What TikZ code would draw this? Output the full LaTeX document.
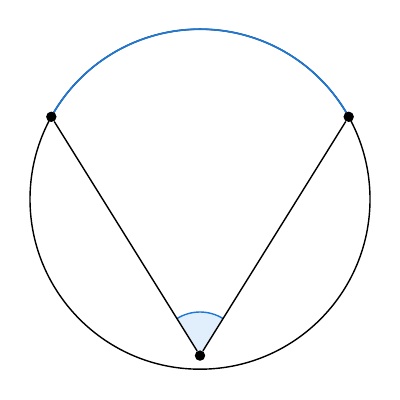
\documentclass[tikz,border=0pt]{standalone}
\usepackage{tikz}
\usepackage{xcolor}
\definecolor{arcblue}{RGB}{30, 120, 215}
\definecolor{wedgeblue}{RGB}{225, 238, 252}

\begin{document}
\begin{tikzpicture}[
        % Styles for the points and lines
        dot/.style={circle, fill=black, inner sep=0pt, minimum size=2.6mm},
        chord/.style={draw=black, line width=1pt},
        majorarc/.style={draw=arcblue, line width=1.2pt},
        anglefill/.style={fill=wedgeblue},
        anglearc/.style={draw=arcblue, line width=1pt}
    ]
    \useasboundingbox (0,0) rectangle (10,10);

    % Centre and points
    \coordinate (O) at (5, 5.02);
    \coordinate (pA) at (1.283, 7.08);
    \coordinate (pB) at (8.717, 7.08);
    \coordinate (pP) at (5, 1.11);

    % Circle and highlighted arc
    \draw[chord] (O) circle (4.25);
    \draw[majorarc] (pA) arc (151:29:4.25);

    % Angle marker at P
    \fill[anglefill] (pP) -- ([shift={(58.1:1.09)}]pP) arc (58.1:121.9:1.09) -- cycle;
    \draw[anglearc] ([shift={(58.1:1.09)}]pP) arc (58.1:121.9:1.09);

    % Points
    \node[dot] (A) at (pA) {};
    \node[dot] (B) at (pB) {};
    \node[dot] (P) at (pP) {};

    % Lines from P
    \draw[chord] (P) -- (A);
    \draw[chord] (P) -- (B);

\end{tikzpicture}
\end{document}
